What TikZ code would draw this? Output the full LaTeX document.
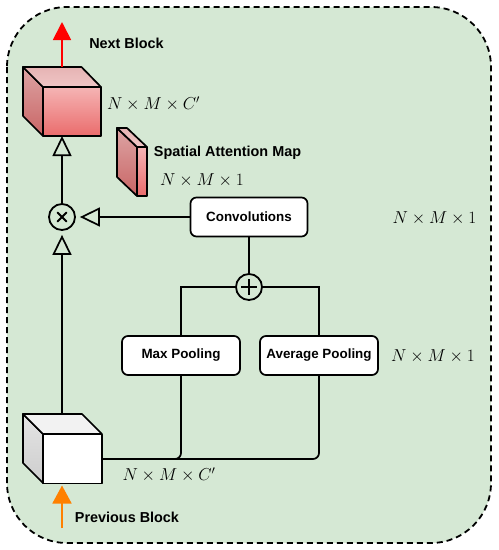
\documentclass[tikz,border=0pt]{standalone}
\usepackage[no-math]{fontspec}
\setmainfont{Liberation Sans}
\usetikzlibrary{arrows.meta,calc}
\definecolor{bgGreen}{HTML}{D5E8D4}
\definecolor{redFrontTop}{HTML}{F5B4B4}
\definecolor{redFrontBot}{HTML}{EA6C6C}
\definecolor{redSideTop}{HTML}{DDA4A4}
\definecolor{redSideBot}{HTML}{C96565}
\definecolor{redTopA}{HTML}{E6B3B3}
\definecolor{redTopB}{HTML}{F0C6C6}
\definecolor{grayTop}{HTML}{F2F2F2}
\definecolor{graySide}{HTML}{E4E4E4}
\definecolor{arrowRed}{HTML}{FF0000}
\definecolor{arrowOrange}{HTML}{FF8000}
\begin{document}
\begin{tikzpicture}[x=1pt,y=-1pt,
  outerbox/.style={draw=black, fill=bgGreen, line width=1.8pt, dash pattern=on 6pt off 4pt, rounded corners=60pt},
  procbox/.style={draw=black, fill=white, line width=1.7pt, rounded corners=6pt, minimum width=117pt, minimum height=39pt, inner sep=0pt, font=\fontsize{13.4}{16}\selectfont\bfseries},
  lbl/.style={font=\fontsize{14.4}{17}\selectfont\bfseries, inner sep=0pt},
  dimlbl/.style={font=\fontsize{17}{20}\selectfont, inner sep=0pt},
  opcircle/.style={circle, draw=black, line width=1.8pt, minimum size=26pt, inner sep=0pt},
  conn/.style={draw=black, line width=1.7pt},
  openarrow/.style={-{Triangle[open, length=20pt, width=19pt, line width=1.7pt]}},
  face/.style={draw=black, line width=1.7pt, line join=round},
  cubebox/.style={inner sep=0pt, outer sep=0pt, draw=none}
]
\useasboundingbox (0,0) rectangle (499,550);
\draw[outerbox] (7,7) rectangle (491,543);

% ---- top (red) cube ----
\node[cubebox, minimum width=78pt, minimum height=69pt] (cubeTop) at (62,101.5) {};
\shadedraw[face, top color=redSideTop, bottom color=redSideBot] (23,67) -- (43,87) -- (43,136) -- (23,116) -- cycle;
\shadedraw[face, top color=redTopA, bottom color=redTopB] (23,67) -- (81.5,67) -- (101,87) -- (43,87) -- cycle;
\node[face, top color=redFrontTop, bottom color=redFrontBot, minimum width=58pt, minimum height=49pt, inner sep=0pt] (cubeTopF) at (72,111.5) {};

% ---- spatial attention map prism ----
\node[cubebox, minimum width=30pt, minimum height=68pt] (sam) at (132,162) {};
\shadedraw[face, top color=redSideTop, bottom color=redSideBot] (117,128) -- (137,147) -- (137,196) -- (117,177) -- cycle;
\shadedraw[face, top color=redTopA, bottom color=redTopB] (117,128) -- (127,128) -- (147,147) -- (137,147) -- cycle;
\node[face, top color=redFrontTop, bottom color=redFrontBot, minimum width=10pt, minimum height=49pt, inner sep=0pt] (samF) at (142,171.5) {};

% ---- bottom (white) cube ----
\node[cubebox, minimum width=79pt, minimum height=69pt] (cubeBot) at (62,448.5) {};
\shadedraw[face, top color=graySide, bottom color=graySide!90!black] (23,414) -- (43,434) -- (43,483) -- (23,463) -- cycle;
\filldraw[face, fill=grayTop] (23,414) -- (82,414) -- (102,434) -- (43,434) -- cycle;
\node[face, fill=white, minimum width=59pt, minimum height=49pt, inner sep=0pt] (cubeBotF) at (72.5,459) {};

% ---- processing boxes ----
\node[procbox] (conv) at (249,217) {Convolutions};
\node[procbox, minimum width=118pt] (maxp) at (181,355.5) {Max Pooling};
\node[procbox, minimum width=118pt] (avgp) at (319,355.5) {Average Pooling};

% ---- operators ----
\node[opcircle] (mult) at (62,217) {};
\draw[line width=2pt, line cap=round] ($(mult)+(-4.5,-4.5)$) -- ($(mult)+(4.5,4.5)$) ($(mult)+(-4.5,4.5)$) -- ($(mult)+(4.5,-4.5)$);
\node[opcircle] (plus) at (249,287) {};
\draw[line width=1.8pt] ($(plus)+(-8,0)$) -- ($(plus)+(8,0)$) ($(plus)+(0,-8)$) -- ($(plus)+(0,8)$);

% ---- labels ----
\node[lbl] (nextLbl) at (126.5,43) {Next Block};
\node[lbl] (samLbl) at (227.5,153) {Spatial Attention Map};
\node[lbl] (prevLbl) at (127,517) {Previous Block};
\node[dimlbl] (dimTop) at (153.5,104) {$N\times M\times C'$};
\node[dimlbl] (dimSam) at (202,180) {$N\times M\times 1$};
\node[dimlbl] (dimConv) at (434.5,218) {$N\times M\times 1$};
\node[dimlbl] (dimPool) at (433,356.5) {$N\times M\times 1$};
\node[dimlbl] (dimBot) at (169,475) {$N\times M\times C'$};

% ---- connectors ----
\coordinate (nextTip) at (62,22);
\coordinate (prevStart) at (62,528);
\draw[arrowRed, line width=1.8pt, -{Triangle[length=18pt, width=18pt]}] (cubeTop.north) -- (nextTip);
\draw[arrowOrange, line width=1.8pt, -{Triangle[length=18pt, width=19pt]}, shorten >=2.5pt] (prevStart) -- (cubeBot.south);
\draw[conn, openarrow] (mult.north) -- (cubeTop.south);
\draw[conn, openarrow, shorten >=4pt] (cubeBot.north) -- (mult.south);
\draw[conn, openarrow, shorten >=4pt] (conv.west) -- (mult.east);
\draw[conn] (plus.north) -- (conv.south);
\draw[conn] (maxp.north) |- (plus.west);
\draw[conn] (avgp.north) |- (plus.east);
\draw[conn, rounded corners=6pt] (cubeBotF.east) -| (maxp.south);
\draw[conn, rounded corners=6pt] (cubeBotF.east) -| (avgp.south);
\end{tikzpicture}
\end{document}
